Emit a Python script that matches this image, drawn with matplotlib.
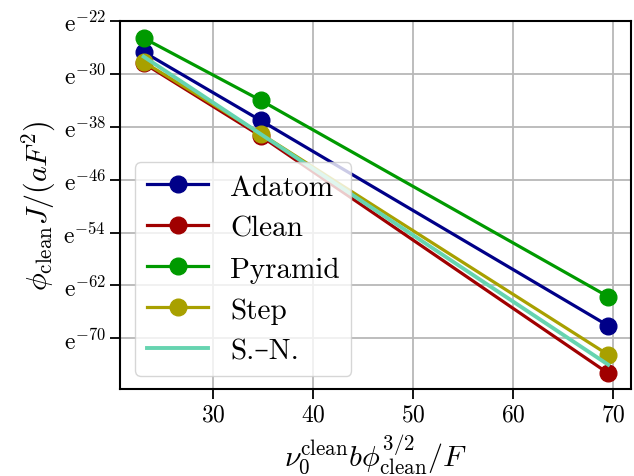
import numpy as np
import matplotlib
matplotlib.use("Agg")
import matplotlib.pyplot as plt
from matplotlib.ticker import FixedLocator, FuncFormatter, NullLocator

plt.rcParams['font.family'] = ['cmr10', 'DejaVu Serif']
plt.rcParams['mathtext.fontset'] = 'cm'
plt.rcParams['axes.unicode_minus'] = False
plt.rcParams['axes.formatter.use_mathtext'] = True

# x: nu0 b phi^{3/2} / F
x = [23.07, 34.75, 69.48]

# ln of phi J/(aF^2)
adatom = [-26.7, -37.05, -68.1]
clean = [-28.4, -39.4, -75.3]
pyramid = [-24.6, -34.0, -63.7]
step = [-28.2, -39.05, -72.5]
sn = [-27.4, -39.1, -74.0]

yticks = [-22, -30, -38, -46, -54, -62, -70]

fig = plt.figure(figsize=(6.34, 4.77), dpi=100)
ax = fig.add_axes([0.19, 0.182, 0.806, 0.772])

ms = 12
lw = 2.3
ax.plot(x, np.exp(adatom), '-o', color='#000088', lw=lw, ms=ms, label='Adatom')
ax.plot(x, np.exp(clean), '-o', color='#a00000', lw=lw, ms=ms, label='Clean')
ax.plot(x, np.exp(pyramid), '-o', color='#009a00', lw=lw, ms=ms, label='Pyramid')
ax.plot(x, np.exp(step), '-o', color='#a8a000', lw=lw, ms=ms, label='Step')
ax.plot(x, np.exp(sn), '-', color='#66d4b0', lw=lw + 0.5, label='S.–N.')

ax.set_yscale('log', base=np.e)
ax.set_ylim(np.exp(-77.7), np.exp(-22))
ax.yaxis.set_major_locator(FixedLocator(np.exp(yticks)))
ax.yaxis.set_minor_locator(NullLocator())
ax.yaxis.set_major_formatter(FuncFormatter(
    lambda v, p: r'$\mathrm{e}^{%d}$' % round(np.log(v))))

ax.set_xticks([30, 40, 50, 60, 70])
ax.grid(True, color='#b8b8b8', lw=1.3)
ax.set_axisbelow(True)
ax.tick_params(labelsize=17, length=7, width=1.3)
for s in ax.spines.values():
    s.set_linewidth(1.5)

ax.set_xlabel(r'$\nu_0^{\rm clean} b \phi_{\rm clean}^{3/2}/F$', fontsize=21.5)
ax.set_ylabel(r'$\phi_{\rm clean} J/(aF^2)$', fontsize=21.5)

ax.legend(loc='lower left', fontsize=21, handlelength=2.1,
          bbox_to_anchor=(0.029, 0.035), borderaxespad=0,
          borderpad=0.4, labelspacing=0.5, handletextpad=0.75)

fig.savefig('out.png', dpi=100)
